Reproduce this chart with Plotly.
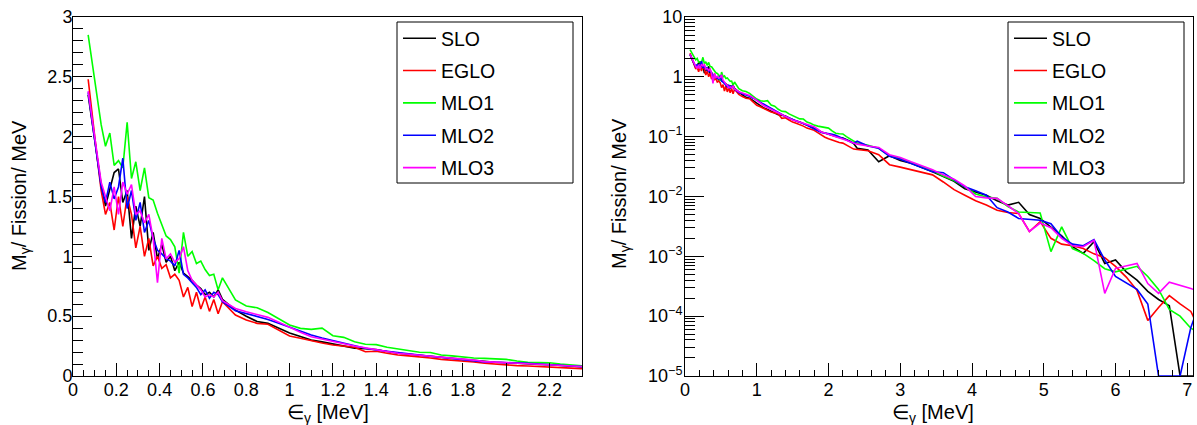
import plotly.graph_objects as go

# ---------------- data ----------------
# photon energy grid (MeV)
energy_low = [0.07, 0.09, 0.11, 0.13, 0.15, 0.17, 0.19, 0.21, 0.23, 0.25, 0.27, 0.29,
              0.31, 0.33, 0.35, 0.37, 0.39, 0.41, 0.43, 0.45, 0.47, 0.49, 0.51, 0.53,
              0.55, 0.57, 0.59, 0.61, 0.63, 0.65, 0.67, 0.69]
energy_mid = [0.75, 0.80, 0.85, 0.90, 0.95, 1.00, 1.05, 1.10, 1.15, 1.20, 1.25, 1.30,
              1.35, 1.40, 1.45, 1.50, 1.55, 1.60, 1.65, 1.70, 1.75, 1.80, 1.85, 1.90,
              1.95, 2.00, 2.05, 2.10, 2.15, 2.20, 2.25, 2.30, 2.35, 2.40]
energy_high = [2.55, 2.70, 2.85, 3.00, 3.15, 3.30, 3.45, 3.60, 3.75, 3.90, 4.05, 4.20,
               4.35, 4.50, 4.65, 4.80, 4.95, 5.10, 5.25, 5.40, 5.55, 5.70, 5.85, 6.00,
               6.15, 6.30, 6.45, 6.60, 6.75, 6.90, 7.05, 7.20]

# M_gamma / fission / MeV for each model
slo_low = [2.35, 2.10, 1.85, 1.60, 1.42, 1.55, 1.70, 1.73, 1.45, 1.55, 1.15, 1.42,
           1.25, 1.50, 1.05, 1.20, 0.98, 1.10, 0.95, 1.00, 0.88, 0.95, 0.86, 0.83,
           0.80, 0.76, 0.73, 0.68, 0.70, 0.66, 0.72, 0.64]
slo_mid = [0.55, 0.50, 0.455, 0.44, 0.40, 0.36, 0.33, 0.30, 0.285, 0.267, 0.25, 0.233,
           0.228, 0.222, 0.205, 0.19, 0.182, 0.175, 0.165, 0.156, 0.148, 0.139, 0.13, 0.12,
           0.115, 0.111, 0.105, 0.10, 0.097, 0.095, 0.090, 0.084, 0.077, 0.064]
slo_high = [0.060, 0.038, 0.048, 0.040, 0.036, 0.031, 0.026, 0.0215, 0.018, 0.0135, 0.0118, 0.0105,
            0.0085, 0.0072, 0.0080, 0.0050, 0.0043, 0.0031, 0.0022, 0.00145, 0.00112, 0.00175, 0.00076, 0.00087,
            0.00055, 0.00040, 0.00026, 0.00019, 0.00015, 0.0, 0.0, 0.0]

eglo_low = [2.48, 2.15, 1.85, 1.55, 1.35, 1.45, 1.22, 1.50, 1.25, 1.50, 1.35, 1.07,
            1.25, 1.00, 1.15, 0.92, 1.00, 0.90, 0.93, 0.82, 0.85, 0.80, 0.66, 0.74,
            0.58, 0.70, 0.56, 0.66, 0.54, 0.64, 0.52, 0.62]
eglo_mid = [0.51, 0.468, 0.44, 0.432, 0.384, 0.334, 0.315, 0.292, 0.275, 0.259, 0.25, 0.24,
            0.203, 0.207, 0.19, 0.175, 0.168, 0.161, 0.15, 0.139, 0.133, 0.128, 0.117, 0.106,
            0.098, 0.092, 0.087, 0.083, 0.080, 0.078, 0.072, 0.066, 0.062, 0.061]
eglo_high = [0.058, 0.050, 0.034, 0.031, 0.028, 0.025, 0.023, 0.0175, 0.013, 0.0105, 0.0085, 0.0072,
             0.0059, 0.0054, 0.0052, 0.0026, 0.0038, 0.0020, 0.0016, 0.0015, 0.00135, 0.0011, 0.00095, 0.00068,
             0.00045, 0.00027, 0.000085, 0.00014, 0.00022, 0.00016, 0.00012, 0.00005]

mlo1_low = [2.85, 2.60, 2.35, 2.10, 1.92, 2.03, 1.76, 1.80, 1.74, 2.12, 1.65, 1.79,
            1.55, 1.74, 1.49, 1.47, 1.36, 1.26, 1.17, 1.14, 1.08, 0.86, 1.20, 1.00,
            1.04, 0.94, 0.96, 0.89, 0.84, 0.85, 0.72, 0.82]
mlo1_mid = [0.635, 0.585, 0.57, 0.53, 0.476, 0.426, 0.398, 0.39, 0.40, 0.337, 0.323, 0.287,
            0.265, 0.262, 0.24, 0.226, 0.21, 0.198, 0.197, 0.175, 0.168, 0.156, 0.15, 0.147,
            0.143, 0.139, 0.125, 0.114, 0.112, 0.111, 0.10, 0.092, 0.083, 0.078]
mlo1_high = [0.072, 0.064, 0.048, 0.043, 0.037, 0.032, 0.027, 0.022, 0.0185, 0.0145, 0.0110, 0.0098,
             0.0093, 0.0068, 0.0055, 0.0054, 0.0053, 0.0012, 0.0031, 0.00135, 0.00112, 0.00085, 0.00062, 0.00055,
             0.00062, 0.00068, 0.00046, 0.00028, 0.00013, 0.0001, 0.000063, 0.00005]

mlo2_low = [2.37, 2.10, 1.82, 1.58, 1.45, 1.62, 1.48, 1.58, 1.82, 1.40, 1.55, 1.30,
            1.45, 1.20, 1.30, 1.15, 1.05, 1.02, 0.98, 0.96, 0.92, 1.05, 0.85, 0.82,
            0.78, 0.74, 0.68, 0.72, 0.65, 0.70, 0.68, 0.62]
mlo2_mid = [0.546, 0.523, 0.50, 0.473, 0.44, 0.407, 0.375, 0.343, 0.318, 0.295, 0.272, 0.25,
            0.232, 0.217, 0.205, 0.195, 0.185, 0.175, 0.165, 0.156, 0.145, 0.134, 0.125, 0.117,
            0.115, 0.114, 0.11, 0.106, 0.10, 0.095, 0.089, 0.083, 0.078, 0.084]
mlo2_high = [0.070, 0.064, 0.047, 0.042, 0.036, 0.031, 0.026, 0.025, 0.019, 0.0145, 0.0125, 0.0105,
             0.0065, 0.0055, 0.0043, 0.0042, 0.0040, 0.0035, 0.0021, 0.0016, 0.0015, 0.0019, 0.00087, 0.00046,
             0.00036, 0.00028, 0.00016, 0.0, 0.0, 0.0, 0.000065, 0.0002]

mlo3_low = [2.38, 2.12, 1.85, 1.62, 1.50, 1.38, 1.58, 1.35, 1.62, 1.52, 1.60, 1.35,
            1.38, 1.28, 1.35, 1.15, 0.78, 1.15, 0.98, 1.02, 0.95, 0.98, 1.08, 0.88,
            0.80, 0.76, 0.72, 0.66, 0.68, 0.66, 0.70, 0.63]
mlo3_mid = [0.565, 0.537, 0.513, 0.49, 0.45, 0.407, 0.365, 0.328, 0.308, 0.287, 0.268, 0.25,
            0.235, 0.223, 0.205, 0.19, 0.182, 0.175, 0.168, 0.161, 0.154, 0.147, 0.133, 0.12,
            0.115, 0.111, 0.105, 0.10, 0.096, 0.092, 0.087, 0.082, 0.078, 0.075]
mlo3_high = [0.070, 0.066, 0.050, 0.045, 0.038, 0.033, 0.028, 0.023, 0.0195, 0.0150, 0.0100, 0.0095,
             0.0093, 0.0070, 0.0052, 0.0026, 0.0036, 0.0030, 0.0020, 0.0015, 0.00145, 0.00185, 0.00024, 0.00063,
             0.00070, 0.00076, 0.00035, 0.00024, 0.00037, 0.00033, 0.00029, 0.00025]

model_names = ["SLO", "EGLO", "MLO1", "MLO2", "MLO3"]
model_colors = ["#000000", "#ff0000", "#00ff00", "#0000ff", "#ff00ff"]

# tick labels
lin_y_ticks = [0, 0.5, 1, 1.5, 2, 2.5, 3]
lin_y_text = ["0", "0.5", "1", "1.5", "2", "2.5", "3"]
log_y_ticks = [1e-5, 1e-4, 1e-3, 1e-2, 1e-1, 1, 10]
log_y_text = ["10<sup>\u22125</sup>", "10<sup>\u22124</sup>", "10<sup>\u22123</sup>",
              "10<sup>\u22122</sup>", "10<sup>\u22121</sup>", "1", "10"]

x_title = "\u2208<sub>\u03b3</sub> [MeV]"
y_title = "M<sub>\u03b3</sub>/ Fission/ MeV"

# ---------------- figure ----------------
energy = energy_low + energy_mid + energy_high
series = [slo_low + slo_mid + slo_high,
          eglo_low + eglo_mid + eglo_high,
          mlo1_low + mlo1_mid + mlo1_high,
          mlo2_low + mlo2_mid + mlo2_high,
          mlo3_low + mlo3_mid + mlo3_high]
for s in series:
    assert len(s) == len(energy), (len(s), len(energy))

LOG_FLOOR = 1e-5  # empty bins are drawn at the frame bottom on the log pad

W, H = 1197, 425
FONT = "Liberation Sans, Arial, Helvetica, sans-serif"

def px_x(p):
    return p / W

def px_y(p):
    return 1 - p / H

fig = go.Figure()
for name, color, ys in zip(model_names, model_colors, series):
    fig.add_trace(go.Scatter(x=energy, y=ys, mode="lines", name=name,
                             line=dict(color=color, width=1.6),
                             legend="legend", legendgroup=name,
                             xaxis="x", yaxis="y"))
for name, color, ys in zip(model_names, model_colors, series):
    ylog = [v if v > 0 else LOG_FLOOR for v in ys]
    fig.add_trace(go.Scatter(x=energy, y=ylog, mode="lines", name=name,
                             line=dict(color=color, width=1.6),
                             legend="legend2", legendgroup=name,
                             xaxis="x2", yaxis="y2"))

tickfont = dict(family=FONT, size=18, color="black")
common = dict(showline=True, linecolor="black", linewidth=1, mirror=True,
              ticks="inside", tickcolor="black", tickwidth=1, automargin=False,
              showgrid=False, zeroline=False, tickfont=tickfont)

ydom = [px_y(376), px_y(17)]
legend_style = dict(xanchor="left", yanchor="top", bgcolor="rgba(0,0,0,0)", borderwidth=0,
                    traceorder="grouped", tracegroupgap=4, itemwidth=33,
                    font=dict(family=FONT, size=19.5, color="black"))
fig.update_layout(
    template="none",
    width=W, height=H,
    margin=dict(l=0, r=0, t=0, b=0, pad=0),
    paper_bgcolor="white", plot_bgcolor="white",
    font=dict(family=FONT, color="black"),
    xaxis=dict(domain=[px_x(73), px_x(582)], range=[0, 2.35], tick0=0, dtick=0.2,
               ticklen=13, anchor="y", ticklabelstandoff=-3,
               minor=dict(ticks="inside", dtick=0.05, ticklen=6.5, tickcolor="black", tickwidth=1),
               **common),
    yaxis=dict(domain=ydom, range=[0, 3], tickmode="array", tickvals=lin_y_ticks, ticktext=lin_y_text,
               ticklen=19, anchor="x", ticklabelstandoff=-4,
               minor=dict(ticks="inside", tickmode="linear", tick0=0, dtick=0.1, ticklen=9.5,
                          tickcolor="black", tickwidth=1),
               **common),
    xaxis2=dict(domain=[px_x(685), px_x(1193)], range=[0, 7.08], tick0=0, dtick=1,
                ticklen=13, anchor="y2", ticklabelstandoff=-3,
                minor=dict(ticks="inside", dtick=0.2, ticklen=6.5, tickcolor="black", tickwidth=1),
                **common),
    yaxis2=dict(domain=ydom, type="log", range=[-5, 1], tickmode="array",
                tickvals=log_y_ticks, ticktext=log_y_text, ticklen=19, anchor="x2",
                ticklabelstandoff=-2,
                minor=dict(ticks="inside", tickmode="array",
                           tickvals=[m * 10.0 ** e for e in range(-5, 1) for m in range(2, 10)],
                           ticklen=9.5, tickcolor="black", tickwidth=1),
                **common),
    legend=dict(x=px_x(398), y=px_y(19), **legend_style),
    legend2=dict(x=px_x(1009), y=px_y(19), **legend_style),
    shapes=[
        dict(type="rect", xref="paper", yref="paper", x0=px_x(397), x1=px_x(573),
             y0=px_y(183), y1=px_y(22), line=dict(color="black", width=1), layer="below"),
        dict(type="rect", xref="paper", yref="paper", x0=px_x(1008), x1=px_x(1184),
             y0=px_y(183), y1=px_y(22), line=dict(color="black", width=1), layer="below"),
    ],
    annotations=[
        dict(text=x_title, xref="paper", yref="paper", x=px_x(327.5), y=px_y(413),
             xanchor="center", yanchor="middle", showarrow=False,
             font=dict(family=FONT, size=20, color="black")),
        dict(text=x_title, xref="paper", yref="paper", x=px_x(933), y=px_y(413),
             xanchor="center", yanchor="middle", showarrow=False,
             font=dict(family=FONT, size=20, color="black")),
        dict(text=y_title, xref="paper", yref="paper", x=px_x(20), y=px_y(196),
             xanchor="center", yanchor="middle", showarrow=False, textangle=-90,
             font=dict(family=FONT, size=20, color="black")),
        dict(text=y_title, xref="paper", yref="paper", x=px_x(620), y=px_y(194),
             xanchor="center", yanchor="middle", showarrow=False, textangle=-90,
             font=dict(family=FONT, size=20, color="black")),
    ],
)

fig.write_html("out.html", config={"displayModeBar": False},
               post_script="document.body.style.margin='0';document.body.style.overflow='hidden';")
